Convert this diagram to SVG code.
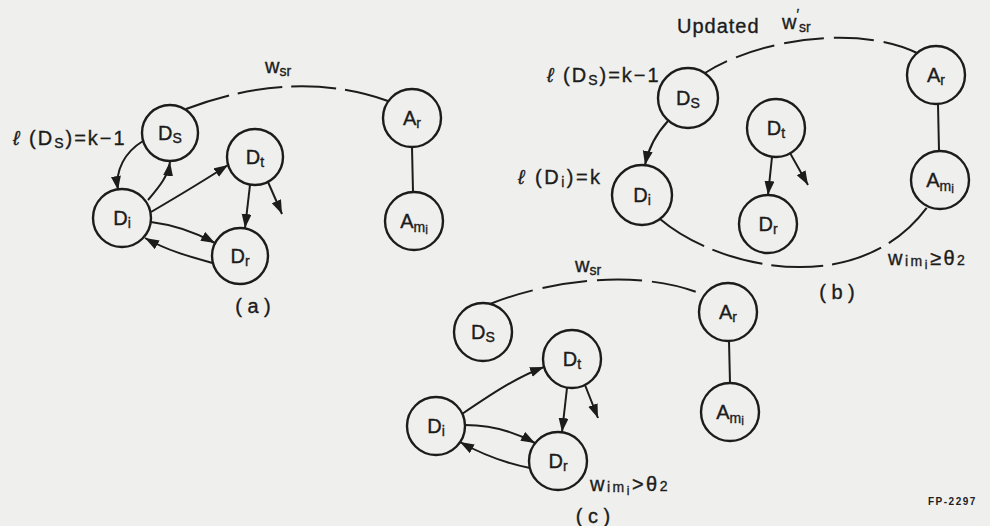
<svg xmlns="http://www.w3.org/2000/svg" width="990" height="526" viewBox="0 0 990 526">
  <style>
    .bg { fill: #efefed; }
    .node circle { fill: none; stroke: #1c1c1c; stroke-width: 2.4; }
    .lbl { font-family: "Liberation Sans", "DejaVu Sans", sans-serif; font-size: 20px; fill: #1c1c1c; stroke: #1c1c1c; stroke-width: 0.35px; }
    .nl { text-anchor: middle; }
    .sub { font-size: 14px; }
    .sub2 { font-size: 12px; }
    .arc { fill: none; stroke: #1c1c1c; stroke-width: 2; }
    .arrow { fill: none; stroke: #1c1c1c; stroke-width: 2; marker-end: url(#head); }
    .link { fill: none; stroke: #1c1c1c; stroke-width: 2; }
    .tag { font-family: "Liberation Sans", "DejaVu Sans", sans-serif; font-size: 10px; font-weight: bold; letter-spacing: 1.5px; fill: #1c1c1c; }
  </style>
  <defs>
    <marker id="head" markerUnits="userSpaceOnUse" markerWidth="15" markerHeight="11" refX="14" refY="5" orient="auto">
      <path d="M0,0 L14,5 L0,10 z" fill="#1c1c1c"/>
    </marker>
  </defs>

  <rect class="bg" x="0" y="0" width="990" height="526"/>

  <!-- connectors -->
  <g id="connectors">
    <!-- panel (a) -->
    <path class="arc" d="M186,109 Q295,68 388,101" stroke-dasharray="45 9"/>
    <path class="link" d="M412,147 L413,192"/>
    <path class="arrow" d="M143,141 C125,152 115,170 118,190"/>
    <path class="arrow" d="M148,200 C160,186 168,176 170,162"/>
    <path class="arrow" d="M151,212 C180,195 205,180 228,165"/>
    <path class="arrow" d="M151,222 C175,225 195,232 215,243"/>
    <path class="arrow" d="M213,263 C195,258 170,252 145,238"/>
    <path class="arrow" d="M250,185 L245,228"/>
    <path class="arrow" d="M268,182 L282,214"/>

    <!-- panel (b) -->
    <path class="arc" d="M705,73 C760,38 860,25 917,53" stroke-dasharray="40 10" stroke-dashoffset="15"/>
    <path class="arc" d="M660,219 C720,270 860,300 928,206" stroke-dasharray="52 9"/>
    <path class="link" d="M938,104 L939,151"/>
    <path class="arrow" d="M668,121 C655,135 648,150 645,165"/>
    <path class="arrow" d="M772,157 L768,195"/>
    <path class="arrow" d="M790,153 L808,185"/>

    <!-- panel (c) -->
    <path class="arc" d="M490,304 C550,280 640,268 704,295" stroke-dasharray="45 10"/>
    <path class="link" d="M729,341 L730,383"/>
    <path class="arrow" d="M462,414 C490,395 515,378 544,367"/>
    <path class="arrow" d="M465,425 C490,425 515,432 535,443"/>
    <path class="arrow" d="M530,468 C510,464 485,456 460,442"/>
    <path class="arrow" d="M567,388 L562,432"/>
    <path class="arrow" d="M585,385 L598,418"/>
  </g>

  <!-- panel (a) nodes -->
  <g id="a-Ds" class="node"><circle cx="170" cy="133" r="28"/><text class="lbl nl" x="170" y="140">D<tspan class="sub" dy="3">S</tspan></text></g>
  <g id="a-Dt" class="node"><circle cx="255" cy="157" r="28"/><text class="lbl nl" x="255" y="164">D<tspan class="sub" dy="3">t</tspan></text></g>
  <g id="a-Di" class="node"><circle cx="122" cy="218" r="29"/><text class="lbl nl" x="122" y="225">D<tspan class="sub" dy="3">i</tspan></text></g>
  <g id="a-Dr" class="node"><circle cx="240" cy="256" r="28"/><text class="lbl nl" x="240" y="263">D<tspan class="sub" dy="3">r</tspan></text></g>
  <g id="a-Ar" class="node"><circle cx="412" cy="118" r="29"/><text class="lbl nl" x="412" y="125">A<tspan class="sub" dy="3">r</tspan></text></g>
  <g id="a-Ami" class="node"><circle cx="414" cy="221" r="29"/><text class="lbl nl" x="414" y="228">A<tspan class="sub" dy="4">m</tspan><tspan class="sub2" dy="2">i</tspan></text></g>

  <!-- panel (b) nodes -->
  <g id="b-Ds" class="node"><circle cx="688" cy="98" r="30"/><text class="lbl nl" x="688" y="105">D<tspan class="sub" dy="3">S</tspan></text></g>
  <g id="b-Dt" class="node"><circle cx="776" cy="128" r="29"/><text class="lbl nl" x="776" y="135">D<tspan class="sub" dy="3">t</tspan></text></g>
  <g id="b-Di" class="node"><circle cx="642" cy="195" r="30"/><text class="lbl nl" x="642" y="202">D<tspan class="sub" dy="3">i</tspan></text></g>
  <g id="b-Dr" class="node"><circle cx="768" cy="224" r="29"/><text class="lbl nl" x="768" y="231">D<tspan class="sub" dy="3">r</tspan></text></g>
  <g id="b-Ar" class="node"><circle cx="936" cy="75" r="29"/><text class="lbl nl" x="936" y="82">A<tspan class="sub" dy="3">r</tspan></text></g>
  <g id="b-Ami" class="node"><circle cx="940" cy="180" r="29"/><text class="lbl nl" x="940" y="187">A<tspan class="sub" dy="4">m</tspan><tspan class="sub2" dy="2">i</tspan></text></g>

  <!-- panel (c) nodes -->
  <g id="c-Ds" class="node"><circle cx="483" cy="332" r="29"/><text class="lbl nl" x="483" y="339">D<tspan class="sub" dy="3">S</tspan></text></g>
  <g id="c-Dt" class="node"><circle cx="572" cy="359" r="29"/><text class="lbl nl" x="572" y="366">D<tspan class="sub" dy="3">t</tspan></text></g>
  <g id="c-Di" class="node"><circle cx="436" cy="426" r="29"/><text class="lbl nl" x="436" y="433">D<tspan class="sub" dy="3">i</tspan></text></g>
  <g id="c-Dr" class="node"><circle cx="558" cy="461" r="29"/><text class="lbl nl" x="558" y="468">D<tspan class="sub" dy="3">r</tspan></text></g>
  <g id="c-Ar" class="node"><circle cx="728" cy="312" r="29"/><text class="lbl nl" x="728" y="319">A<tspan class="sub" dy="3">r</tspan></text></g>
  <g id="c-Ami" class="node"><circle cx="730" cy="412" r="29"/><text class="lbl nl" x="730" y="419">A<tspan class="sub" dy="4">m</tspan><tspan class="sub2" dy="2">i</tspan></text></g>

  <!-- labels -->
  <g id="labels">
    <text class="lbl" x="13" y="145" letter-spacing="2"><tspan font-style="italic">ℓ</tspan> (D<tspan class="sub" dy="3">S</tspan><tspan dy="-3">)=k−1</tspan></text>
    <text class="lbl" x="265" y="73">w<tspan class="sub" dy="3">sr</tspan></text>
    <text class="lbl" x="253" y="313" text-anchor="middle">( a )</text>

    <text class="lbl" x="677" y="33" letter-spacing="1">Updated</text>
    <text class="lbl" x="782" y="29">w<tspan class="sub" dy="-10">′</tspan><tspan class="sub" dy="13">sr</tspan></text>
    <text class="lbl" x="547" y="82" letter-spacing="2"><tspan font-style="italic">ℓ</tspan> (D<tspan class="sub" dy="3">S</tspan><tspan dy="-3">)=k−1</tspan></text>
    <text class="lbl" x="518" y="184" letter-spacing="2.5"><tspan font-style="italic">ℓ</tspan> (D<tspan class="sub" dy="3">i</tspan><tspan dy="-3">)=k</tspan></text>
    <text class="lbl" x="888" y="265" letter-spacing="2.5">w<tspan class="sub" dy="1">im</tspan><tspan class="sub2" dy="3">i</tspan><tspan dy="-4">≥θ</tspan><tspan class="sub">2</tspan></text>
    <text class="lbl" x="837" y="299" text-anchor="middle">( b )</text>

    <text class="lbl" x="575" y="272">w<tspan class="sub" dy="3">sr</tspan></text>
    <text class="lbl" x="590" y="491" letter-spacing="2.5">w<tspan class="sub" dy="1">im</tspan><tspan class="sub2" dy="3">i</tspan><tspan dy="-4">&gt;θ</tspan><tspan class="sub">2</tspan></text>
    <text class="lbl" x="593" y="523" text-anchor="middle">( c )</text>

    <text class="tag" x="928" y="505">FP-2297</text>
  </g>
</svg>
